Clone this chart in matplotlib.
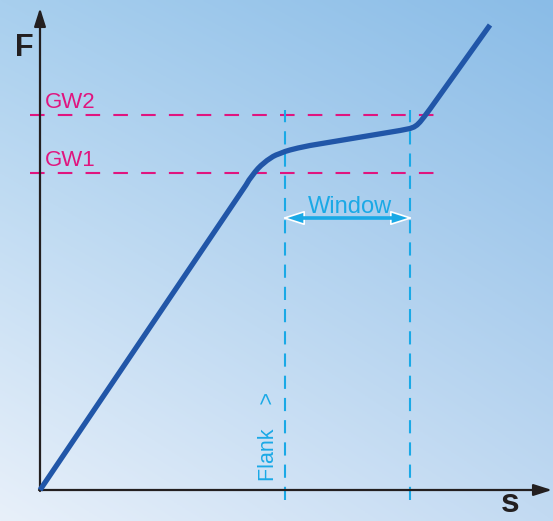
import numpy as np
import matplotlib.pyplot as plt

plt.rcParams['lines.scale_dashes'] = False
plt.rcParams['font.family'] = ['Liberation Sans', 'DejaVu Sans']

# curve, chart units (origin at the axes corner)
s_curve = [0, 206, 209, 212, 215, 218, 221, 224, 227, 230, 233, 236, 240, 245, 250, 258,
           270, 285, 300, 315, 330, 345, 360, 370, 374, 377, 380, 384, 390, 450]
F_curve = [0, 305, 310, 314, 318, 321.5, 324.5, 327, 329.5, 331.5, 333.5, 335, 336.5, 338.5,
           340, 342, 344.5, 347, 349.5, 352, 354.5, 357, 359.5, 361.5, 363, 365, 368, 373, 381, 465]

gw_levels = [375, 317]
gw_labels = ['GW2', 'GW1']
window = [245, 370]

fig = plt.figure(figsize=(5.53, 5.21), dpi=100)
ax = fig.add_axes([0, 0, 1, 1])
ax.set_xlim(-40, 513)
ax.set_ylim(-31, 490)
ax.axis('off')

# background gradient
c_bl = np.array([232, 240, 250]) / 255
c_br = np.array([194, 218, 242]) / 255
c_tl = np.array([168, 207, 238]) / 255
c_tr = np.array([138, 188, 231]) / 255
u = np.linspace(0, 1, 200)[None, :, None]
v = np.linspace(1, 0, 200)[:, None, None]
img = (c_bl * (1 - u) * (1 - v) + c_br * u * (1 - v)
       + c_tl * (1 - u) * v + c_tr * u * v)
ax.imshow(img, extent=[-40, 513, -31, 490], aspect='auto', zorder=0)

# axes arrows
ax.annotate('', xy=(0, 482), xytext=(0, -1),
            arrowprops=dict(arrowstyle='-|>,head_length=1.1,head_width=0.35',
                            color='#231f20', lw=1.6, shrinkA=0, shrinkB=0))
ax.annotate('', xy=(512, 0), xytext=(-1, 0),
            arrowprops=dict(arrowstyle='-|>,head_length=1.1,head_width=0.35',
                            color='#231f20', lw=1.6, shrinkA=0, shrinkB=0))
ax.text(-16, 442, 'F', fontsize=22, fontweight='bold', color='#231f20',
        ha='center', va='center')
ax.text(470, -13, 's', fontsize=24, fontweight='bold', color='#231f20',
        ha='center', va='center')

# GW lines
magenta = '#e0157f'
for lvl, lab in zip(gw_levels, gw_labels):
    ax.plot([-10, 400], [lvl, lvl], color=magenta, lw=1.5,
            dashes=(10.5, 9.5), zorder=2)
    ax.text(5, lvl + 7, lab, fontsize=16, color=magenta, ha='left', va='baseline')

# window lines
cyan = '#1aa9e6'
for w in window:
    ax.plot([w, w], [-10, 380], color=cyan, lw=1.5, dashes=(9.5, 6.5), zorder=2)
ax.annotate('', xy=(window[0] - 3, 272), xytext=(window[1] + 3, 272),
            arrowprops=dict(arrowstyle='<|-|>,head_length=1.4,head_width=0.45',
                            facecolor=cyan, edgecolor='white', lw=1.2,
                            shrinkA=0, shrinkB=0), zorder=3)
ax.plot([window[0] + 14, window[1] - 14], [272, 272], color=cyan, lw=2.6, zorder=3.5)
ax.text(sum(window) / 2 + 2, 277, 'Window', fontsize=17, color=cyan,
        ha='center', va='baseline')
ax.text(228, 9, 'Flank    >', fontsize=15.5, color=cyan, rotation=90,
        ha='center', va='bottom')

# curve
ax.plot(s_curve, F_curve, color='#2156a8', lw=3.8, solid_capstyle='butt',
        solid_joinstyle='round', zorder=4)

fig.savefig('out.png', dpi=100)
